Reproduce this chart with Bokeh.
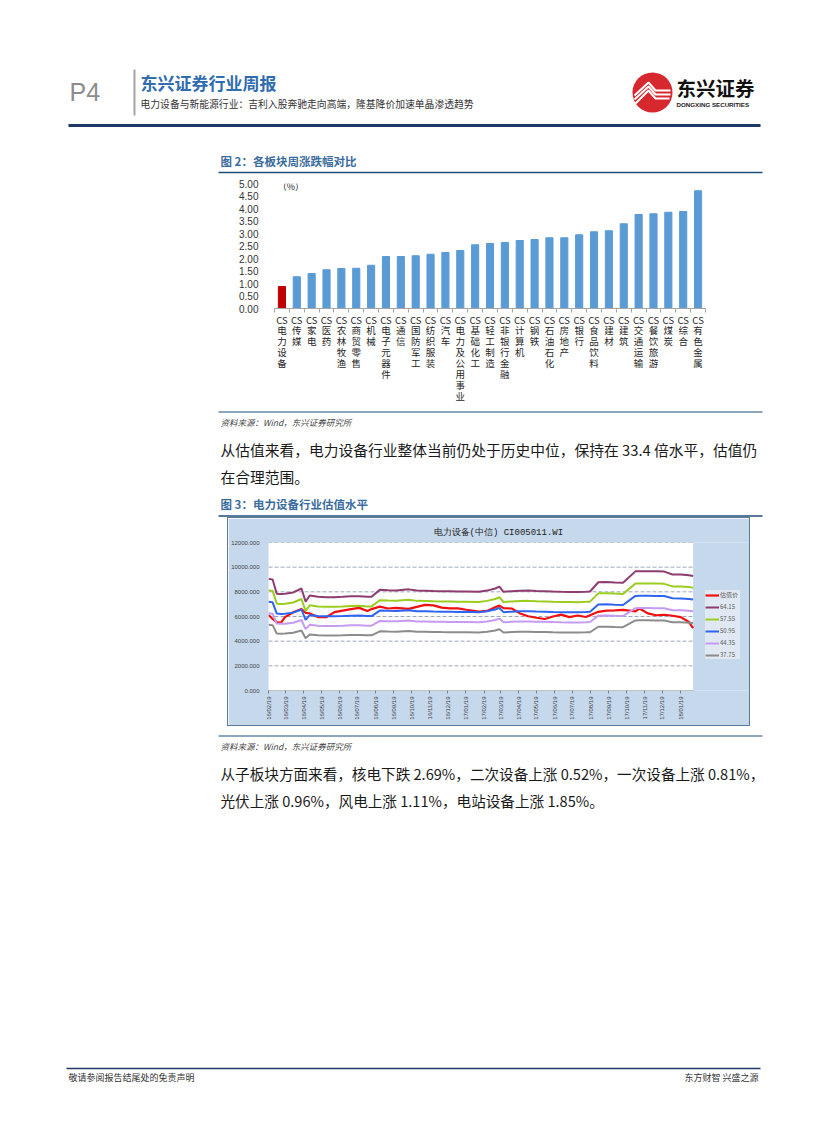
import calendar
import math
from datetime import datetime

from bokeh.plotting import figure
from bokeh.layouts import column, row
from bokeh.models import (Range1d, FixedTicker, NumeralTickFormatter, Legend, LegendItem,
                          Spacer, Label, ColumnDataSource, BoxAnnotation)
from bokeh.embed import file_html
from bokeh.resources import INLINE
from bokeh.core.properties import value

CJK = "Noto Sans CJK SC"

# ---------------- figure 2 data ----------------
sectors = ["电力设备", "传媒", "家电", "医药", "农林牧渔", "商贸零售", "机械", "电子元器件", "通信",
           "国防军工", "纺织服装", "汽车", "电力及公用事业", "基础化工", "轻工制造", "非银行金融",
           "计算机", "钢铁", "石油石化", "房地产", "银行", "食品饮料", "建材", "建筑", "交通运输",
           "餐饮旅游", "煤炭", "综合", "有色金属"]
weekly_change = [0.88, 1.27, 1.40, 1.55, 1.60, 1.61, 1.73, 2.08, 2.08, 2.11, 2.17, 2.24, 2.32,
                 2.55, 2.60, 2.64, 2.72, 2.76, 2.83, 2.83, 2.95, 3.07, 3.11, 3.39, 3.76, 3.79,
                 3.85, 3.88, 4.71]
highlight_sector = "电力设备"
sector_prefix = "CS"
bar_y_ticks = [0.0, 0.5, 1.0, 1.5, 2.0, 2.5, 3.0, 3.5, 4.0, 4.5, 5.0]

# ---------------- figure 3 data ----------------
dates = ["2016-02-19", "2016-02-26", "2016-03-04", "2016-03-11", "2016-03-18", "2016-04-01",
         "2016-04-15", "2016-04-22", "2016-04-29", "2016-05-13", "2016-05-27", "2016-06-10",
         "2016-06-24", "2016-07-08", "2016-07-22", "2016-08-05", "2016-08-12", "2016-08-26",
         "2016-09-09", "2016-09-23", "2016-10-14", "2016-10-28", "2016-11-11", "2016-11-25",
         "2016-12-09", "2016-12-23", "2017-01-06", "2017-01-20", "2017-02-10", "2017-02-24",
         "2017-03-10", "2017-03-17", "2017-03-24", "2017-04-07", "2017-04-21", "2017-05-05",
         "2017-05-19", "2017-06-02", "2017-06-16", "2017-06-30", "2017-07-14", "2017-07-28",
         "2017-08-11", "2017-08-18", "2017-09-01", "2017-09-15", "2017-09-29", "2017-10-13",
         "2017-11-03", "2017-11-10", "2017-11-24", "2017-12-08", "2017-12-22", "2018-01-05",
         "2018-01-19", "2018-02-02", "2018-02-09"]
index_price = [6120, 5800, 5550, 5480, 5950, 6350, 6600, 6300, 6250, 5950, 5940, 6350, 6480, 6600,
               6700, 6450, 6600, 6800, 6650, 6700, 6620, 6780, 6940, 6900, 6720, 6660, 6660, 6550,
               6400, 6450, 6750, 6880, 6680, 6650, 6250, 6020, 5900, 5800, 6000, 6150, 5950, 6080,
               5960, 6100, 6380, 6480, 6500, 6530, 6420, 6650, 6250, 6100, 6140, 6060, 5950, 5550,
               5050]
pe_64_15 = [9050, 9000, 7850, 7820, 7840, 7950, 8270, 7200, 7700, 7600, 7570, 7570, 7600, 7640,
            7650, 7600, 7600, 8160, 8130, 8110, 8200, 8100, 8080, 8060, 8050, 8040, 8020, 8030,
            8000, 8100, 8270, 8430, 8000, 8050, 8080, 8100, 8060, 8050, 8020, 8000, 7990, 7980,
            8010, 8030, 8780, 8800, 8760, 8730, 9660, 9670, 9670, 9660, 9640, 9410, 9400, 9350,
            9290]
pe_57_55 = [8119, 8074, 7042, 7015, 7033, 7132, 7419, 6459, 6908, 6818, 6791, 6791, 6818, 6854,
            6863, 6818, 6818, 7320, 7293, 7276, 7356, 7267, 7249, 7231, 7222, 7213, 7195, 7204,
            7177, 7267, 7419, 7563, 7177, 7222, 7249, 7267, 7231, 7222, 7195, 7177, 7168, 7159,
            7186, 7204, 7877, 7894, 7859, 7832, 8666, 8675, 8675, 8666, 8648, 8442, 8433, 8388,
            8334]
pe_50_95 = [7188, 7148, 6234, 6211, 6226, 6314, 6568, 5718, 6115, 6036, 6012, 6012, 6036, 6068,
            6076, 6036, 6036, 6481, 6457, 6441, 6512, 6433, 6417, 6401, 6393, 6385, 6369, 6377,
            6354, 6433, 6568, 6695, 6354, 6393, 6417, 6433, 6401, 6393, 6369, 6354, 6346, 6338,
            6362, 6377, 6973, 6989, 6957, 6933, 7672, 7680, 7680, 7672, 7656, 7473, 7465, 7426,
            7378]
pe_44_35 = [6256, 6222, 5427, 5406, 5420, 5496, 5717, 4977, 5323, 5254, 5233, 5233, 5254, 5282,
            5288, 5254, 5254, 5641, 5620, 5606, 5669, 5600, 5586, 5572, 5565, 5558, 5544, 5551,
            5530, 5600, 5717, 5828, 5530, 5565, 5586, 5600, 5572, 5565, 5544, 5530, 5523, 5517,
            5537, 5551, 6070, 6083, 6056, 6035, 6678, 6685, 6685, 6678, 6664, 6505, 6498, 6464,
            6422]
pe_37_75 = [5326, 5297, 4620, 4602, 4614, 4679, 4867, 4237, 4531, 4473, 4455, 4455, 4473, 4496,
            4502, 4473, 4473, 4802, 4785, 4773, 4826, 4767, 4755, 4743, 4737, 4732, 4720, 4726,
            4708, 4767, 4867, 4961, 4708, 4737, 4755, 4767, 4743, 4737, 4720, 4708, 4702, 4696,
            4714, 4726, 5167, 5179, 5155, 5138, 5685, 5691, 5691, 5685, 5673, 5538, 5532, 5503,
            5467]
series_names = ["估值价", "64.15", "57.55", "50.95", "44.35", "37.75"]
series_values = [index_price, pe_64_15, pe_57_55, pe_50_95, pe_44_35, pe_37_75]
series_colors = ["#F01010", "#8E3B6E", "#9ACD1E", "#2F64F0", "#C59BF2", "#8C8C8C"]
line_y_ticks = [0, 2000, 4000, 6000, 8000, 10000, 12000]
month_tick_labels = ["16/02/19", "16/03/19", "16/04/19", "16/05/19", "16/06/19", "16/07/19",
                     "16/08/19", "16/09/19", "16/10/19", "16/11/19", "16/12/19", "17/01/19",
                     "17/02/19", "17/03/19", "17/04/19", "17/05/19", "17/06/19", "17/07/19",
                     "17/08/19", "17/09/19", "17/10/19", "17/11/19", "17/12/19", "18/01/19"]

# ---------------- page texts ----------------
page_no = "P4"
report_title = "东兴证券行业周报"
report_subtitle = "电力设备与新能源行业：吉利入股奔驰走向高端，隆基降价加速单晶渗透趋势"
fig2_title = "图 2：各板块周涨跌幅对比"
fig3_title = "图 3：电力设备行业估值水平"
fig3_chart_title = "电力设备(中信) CI005011.WI"
source_note = "资料来源：Wind，东兴证券研究所"
para1 = ["从估值来看，电力设备行业整体当前仍处于历史中位，保持在 33.4 倍水平，估值仍",
         "在合理范围。"]
para2 = ["从子板块方面来看，核电下跌 2.69%，二次设备上涨 0.52%，一次设备上涨 0.81%，",
         "光伏上涨 0.96%，风电上涨 1.11%，电站设备上涨 1.85%。"]
footer_left = "敬请参阅报告结尾处的免责声明"
footer_right = "东方财智 兴盛之源"
logo_cn = "东兴证券"
logo_en = "DONGXING SECURITIES"

NAVY = "#1F4E79"
TITLE_BLUE = "#3B6C9E"
PANEL_BLUE = "#C6D8EC"
PAGE_W = 819
X0, X1 = 0, 819


def page_section(y0, y1):
    p = figure(width=PAGE_W, height=y1 - y0, x_range=Range1d(X0, X1), y_range=Range1d(y1, y0),
               output_backend="svg", toolbar_location=None, x_axis_location=None,
               y_axis_location=None, min_border=0)
    p.grid.visible = False
    p.outline_line_color = None
    p.background_fill_color = "white"
    p.border_fill_color = "white"
    return p


def put_text(p, x, y, s, size, color="#1a1a1a", font=CJK, style="normal", align="left"):
    p.text(x=[x], y=[y], text=[s], text_font=value(font), text_font_size=f"{size}px",
           text_color=color, text_font_style=style, text_align=align, text_baseline="middle")


def rule(p, xa, xb, y, color=NAVY, width=1.3):
    p.line([xa, xb], [y, y], line_color=color, line_width=width)


# ---------------- section A: header ----------------
secA = page_section(0, 175)
put_text(secA, 69, 91, page_no, 25, color="#8C8C8C", font="Liberation Sans")
secA.line([134, 134], [69, 115], line_color="#A6A6A6", line_width=2)
put_text(secA, 140, 82, report_title, 17, color="#2F6DB0", style="bold")
put_text(secA, 140, 103, report_subtitle, 9.8, color="#333333")
rule(secA, 68, 760, 125, color="#1F3864", width=3)
# logo
secA.circle(x=[652], y=[92], radius=20, fill_color="#D7282F", line_color=None)
secA.multi_line(xs=[[634, 648, 655, 670], [634, 648, 655, 670], [635, 648, 655, 669]],
                ys=[[95, 82, 90, 90], [99, 86, 94, 94], [103, 90, 98, 98]],
                line_color="white", line_width=2)
put_text(secA, 676, 87, logo_cn, 19.5, color="#111111", style="bold")
put_text(secA, 676, 104, logo_en, 6.2, color="#222222", font="Liberation Sans", style="bold")
put_text(secA, 220, 160, fig2_title, 11.5, color=TITLE_BLUE, style="bold")
rule(secA, 218, 762, 172, width=1.5)

# ---------------- bar chart ----------------
n = len(sectors)
bar_colors = ["#C00000" if s == highlight_sector else "#5B9BD5" for s in sectors]
bar_src = ColumnDataSource(dict(x=list(range(n)), top=weekly_change, color=bar_colors))
pb = figure(width=560, height=235, x_range=Range1d(-0.5, n - 0.5), y_range=Range1d(0, 5),
            output_backend="svg", toolbar_location=None, min_border_left=62,
            min_border_right=67, min_border_top=8, min_border_bottom=102)
pb.vbar(x="x", top="top", width=0.48, color="color", source=bar_src)
pb.grid.visible = False
pb.outline_line_color = None
pb.background_fill_color = "white"
pb.border_fill_color = "white"
pb.xaxis.ticker = FixedTicker(ticks=list(range(n)), minor_ticks=[i - 0.5 for i in range(n + 1)])
pb.xaxis.major_label_overrides = {i: "\n".join([sector_prefix] + list(s)) for i, s in enumerate(sectors)}
pb.xaxis.major_tick_line_color = None
pb.xaxis.major_tick_out = 0
pb.xaxis.minor_tick_line_color = "#A6A6A6"
pb.xaxis.minor_tick_out = 4
pb.xaxis.minor_tick_in = 0
pb.xaxis.axis_line_color = "#A6A6A6"
pb.xaxis.major_label_text_font = CJK
pb.xaxis.major_label_text_font_size = "9.5px"
pb.xaxis.major_label_text_line_height = 0.78
pb.xaxis.major_label_text_color = "#262626"
pb.xaxis.major_label_standoff = 0
pb.yaxis.ticker = FixedTicker(ticks=bar_y_ticks)
pb.yaxis.formatter = NumeralTickFormatter(format="0.00")
pb.yaxis.axis_line_color = None
pb.yaxis.major_tick_line_color = None
pb.yaxis.minor_tick_line_color = None
pb.yaxis.major_label_standoff = 10
pb.yaxis.major_label_text_font = "Liberation Sans"
pb.yaxis.major_label_text_font_size = "10px"
pb.yaxis.major_label_text_color = "#333333"
pb.add_layout(Label(x=-0.28, y=4.88, text="（%）", text_font=CJK, text_font_size="9px",
                    text_color="#222222", text_baseline="middle", text_align="left"))

# ---------------- section B ----------------
secB = page_section(410, 517)
rule(secB, 218, 762, 411.5, width=1.2)
put_text(secB, 220, 421, source_note, 8.5, color="#3F3F3F", style="italic")
put_text(secB, 220, 449, para1[0], 14.75)
put_text(secB, 220, 476, para1[1], 14.75)
put_text(secB, 220, 503, fig3_title, 11.5, color=TITLE_BLUE, style="bold")
rule(secB, 218, 762, 515.5, width=1.5)

# ---------------- line chart ----------------
def to_dt(s):
    return datetime.strptime(s, "%Y-%m-%d")


def to_ms(d):
    return calendar.timegm(d.timetuple()) * 1000.0


dts = [to_dt(d) for d in dates]
tick_dts = [datetime.strptime(t, "%y/%m/%d") for t in month_tick_labels]
tick_ms = [to_ms(d) for d in tick_dts]

# the frame is widened to the right so that the legend sits inside it
PLOT_PX, LEGEND_PX = 429, 59
x_end = dts[-1] + (dts[-1] - dts[0]) * LEGEND_PX / PLOT_PX

pl = figure(width=523, height=209, x_axis_type="datetime", x_range=Range1d(dts[0], x_end),
            y_range=Range1d(0, 12000), output_backend="svg", toolbar_location=None,
            min_border_left=35, min_border_right=0, min_border_top=24, min_border_bottom=37,
            styles={"border": "1px solid #5B7A99"})
pl.background_fill_color = PANEL_BLUE
pl.border_fill_color = PANEL_BLUE
pl.outline_line_color = None
pl.add_layout(BoxAnnotation(left=dts[0], right=dts[-1], bottom=line_y_ticks[0],
                            top=line_y_ticks[-1], fill_color="white", fill_alpha=1.0,
                            line_color=None, level="underlay"))
pl.grid.visible = False
pl.segment(x0=[dts[0]] * len(line_y_ticks), x1=[dts[-1]] * len(line_y_ticks),
           y0=line_y_ticks, y1=line_y_ticks, line_color="#9FA8B8", line_width=1,
           line_dash="4 2")
items = []
for name, vals, col in zip(series_names, series_values, series_colors):
    r = pl.line(dts, vals, line_color=col, line_width=2.2 if name == series_names[0] else 2)
    items.append(LegendItem(label=name, renderers=[r]))
legend = Legend(items=items, location=(437, 31), background_fill_color="#E2EAF3",
                border_line_color=None, label_text_font=CJK, label_text_font_size="6px",
                label_text_color="#595959", glyph_width=14, glyph_height=8, label_height=8,
                spacing=3, padding=6, label_standoff=1, margin=0)
pl.add_layout(legend)
pl.title.text = fig3_chart_title
pl.title.align = "left"
pl.title.offset = 165
pl.title.text_font = "Liberation Mono"
pl.title.text_font_size = "9px"
pl.title.text_font_style = "normal"
pl.title.text_color = "#222222"
pl.yaxis.ticker = FixedTicker(ticks=line_y_ticks)
pl.yaxis.formatter = NumeralTickFormatter(format="0.000")
pl.yaxis.axis_line_color = None
pl.yaxis.major_tick_line_color = None
pl.yaxis.minor_tick_line_color = None
pl.yaxis.major_label_standoff = 3
pl.yaxis.major_label_text_font = "Liberation Sans"
pl.yaxis.major_label_text_font_size = "6px"
pl.yaxis.major_label_text_color = "#444444"
pl.xaxis.ticker = FixedTicker(ticks=tick_ms)
pl.xaxis.bounds = (dts[0], dts[-1])
pl.xaxis.major_label_overrides = {t: lbl for t, lbl in zip(tick_ms, month_tick_labels)}
pl.xaxis.major_label_orientation = math.pi / 2
pl.xaxis.axis_line_color = "#BFBFBF"
pl.xaxis.major_tick_line_color = "#808080"
pl.xaxis.major_tick_out = 3
pl.xaxis.major_tick_in = 0
pl.xaxis.minor_tick_line_color = None
pl.xaxis.major_label_standoff = 3
pl.xaxis.major_label_text_font = "Liberation Sans"
pl.xaxis.major_label_text_font_size = "6px"
pl.xaxis.major_label_text_color = "#444444"

# ---------------- section D ----------------
secD = page_section(728, 1114)
rule(secD, 218, 762, 735.5, width=1.2)
put_text(secD, 220, 745, source_note, 8.5, color="#3F3F3F", style="italic")
put_text(secD, 220, 773, para2[0], 14.6)
put_text(secD, 220, 800, para2[1], 14.6)
rule(secD, 66, 760, 1068, color="#1F3864", width=1.5)
put_text(secD, 68, 1077, footer_left, 9, color="#333333")
put_text(secD, 758, 1077, footer_right, 9, color="#333333", align="right")

layout = column(
    secA,
    row(Spacer(width=212, height=235), pb),
    secB,
    row(Spacer(width=227, height=211), pl),
    secD,
)

open("out.html", "w").write(file_html(layout, INLINE))
